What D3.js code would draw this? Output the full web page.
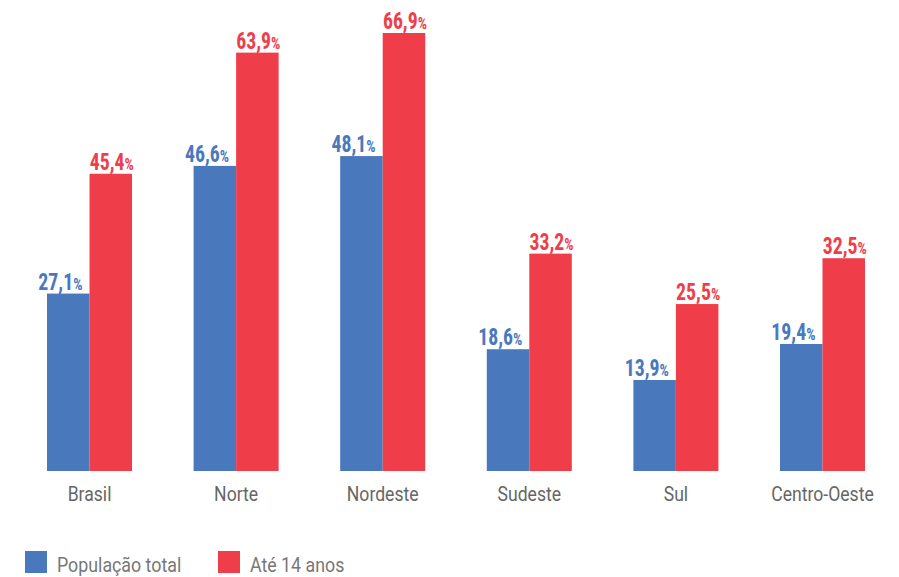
<!DOCTYPE html>
<html><head><meta charset="utf-8">
<script src="https://cdn.jsdelivr.net/npm/d3@7"></script>
<style>body{margin:0;background:#fff}svg{display:block}</style>
</head><body>
<svg id="c" width="899" height="577"></svg>
<script>
const categories = ["Brasil","Norte","Nordeste","Sudeste","Sul","Centro-Oeste"];
const seriesNames = ["População total","Até 14 anos"];
const populacaoTotal = [27.1,46.6,48.1,18.6,13.9,19.4];
const ate14 = [45.4,63.9,66.9,33.2,25.5,32.5];
const colors = ["#4A78BD","#EF3E4A"];

const svg = d3.select("#c");
const SX = 0.88;
const x = d3.scaleBand().domain(categories).range([47,865]).paddingInner(0.42).paddingOuter(0);
const xs = d3.scaleBand().domain([0,1]).range([0,x.bandwidth()]).padding(0);
const y = d3.scaleLinear().domain([0,70]).range([471,12.7]);

const data = categories.map((c,i)=>({c, v:[populacaoTotal[i], ate14[i]]}));
const g = svg.append("g").selectAll("g").data(data).join("g")
  .attr("transform", d=>`translate(${x(d.c)},0)`);

g.selectAll("rect").data(d=>d.v.map((v,k)=>({v,k}))).join("rect")
  .attr("x", d=>xs(d.k)).attr("width", xs.bandwidth())
  .attr("y", d=>y(d.v)).attr("height", d=>y(0)-y(d.v))
  .attr("fill", d=>colors[d.k]);

const lab = g.selectAll("text.val").data(d=>d.v.map((v,k)=>({v,k}))).join("text")
  .attr("class","val")
  .attr("transform", d=>{
    const cx = d.k===0 ? xs(d.k)+xs.bandwidth()-7 : xs(d.k)+xs.bandwidth()/2+1;
    return `translate(${cx},${y(d.v)-4}) scale(0.86,1)`;
  })
  .attr("text-anchor", d=>d.k===0?"end":"middle")
  .attr("font-family","'Roboto Condensed', Roboto, sans-serif")
  .attr("font-weight","700")
  .attr("fill", d=>colors[d.k]);
lab.append("tspan").attr("font-size","23px").text(d=>d.v.toFixed(1).replace(".",","));
lab.append("tspan").attr("font-size","17px").text("%");

const ax = svg.append("g").attr("transform",`translate(0,471)`)
  .call(d3.axisBottom(x).tickSize(0).tickPadding(0));
ax.select(".domain").remove();
ax.selectAll("text")
  .attr("y",30).attr("dy",0)
  .attr("transform",`scale(${SX},1)`)
  .attr("font-family","Roboto, sans-serif")
  .attr("font-size","20px").attr("fill","#666");

const leg = svg.append("g");
const legX = [25,218];
seriesNames.forEach((n,i)=>{
  leg.append("rect").attr("x",legX[i]).attr("y",551).attr("width",22).attr("height",22).attr("fill",colors[i]);
  leg.append("text").attr("transform",`translate(${legX[i]+32},572) scale(0.89,1)`)
    .attr("font-family","Roboto, sans-serif")
    .attr("font-size","20px").attr("fill","#777").text(n);
});
</script>
</body></html>
